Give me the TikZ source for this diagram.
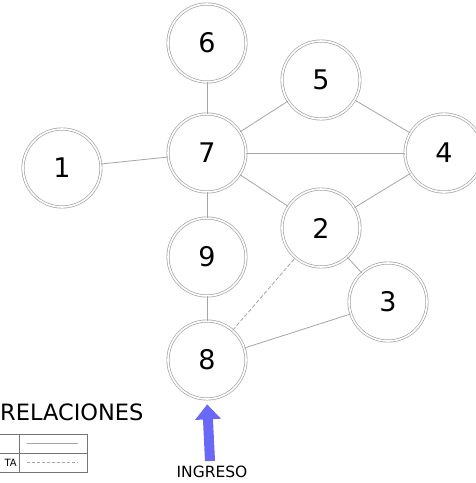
\documentclass[tikz,border=0pt]{standalone}
\usepackage{fontspec}
\setmainfont{DejaVu Sans}
\usepackage{tikz}
\usetikzlibrary{arrows.meta}
\usepackage{xcolor}
\definecolor{linegray}{RGB}{165,165,165}
\definecolor{arrowblue}{RGB}{105,105,245}

\begin{document}
\begin{tikzpicture}[x=1pt,y=-1pt,
    room/.style={circle, draw=linegray, line width=0.7pt, double=white,
      double distance=1.6pt, minimum size=78pt, inner sep=0pt,
      font=\fontsize{27}{27}\selectfont},
    link/.style={draw=linegray, line width=0.8pt}]
        \useasboundingbox (0,0) rectangle (475,483);

        \node[room] (n6) at (207,43) {6};
        \node[room] (n7) at (207,153) {7};
        \node[room] (n1) at (62,168) {1};
        \node[room] (n5) at (321,80) {5};
        \node[room] (n4) at (444,153) {4};
        \node[room] (n2) at (321,228) {2};
        \node[room] (n9) at (207,257) {9};
        \node[room] (n3) at (388,302) {3};
        \node[room] (n8) at (207,360) {8};

        \draw[link] (n6) -- (n7);
        \draw[link] (n1) -- (n7);
        \draw[link] (n7) -- (n5);
        \draw[link] (n7) -- (n4);
        \draw[link] (n7) -- (n2);
        \draw[link] (n7) -- (n9);
        \draw[link] (n5) -- (n4);
        \draw[link] (n2) -- (n4);
        \draw[link] (n2) -- (n3);
        \draw[link] (n9) -- (n8);
        \draw[link] (n8) -- (n3);
        \draw[link, dash pattern=on 4pt off 2pt] (n8) -- (n2);

        \coordinate (ingreso) at (210,461);
        \draw[arrowblue, line width=10pt, shorten >=5pt,
          -{Triangle[width=25pt,length=15pt]}] (ingreso) -- (n8.south);
        \node[font=\fontsize{15.5}{15.5}\selectfont, inner sep=0pt] (ingresolabel) at (212,472) {INGRESO};

        \node[anchor=base west, inner sep=0pt, font=\fontsize{22.5}{22.5}\selectfont] (title) at (0,420) {RELACIONES};
        \draw[linegray!70!black, line width=0.6pt] (-5,434) rectangle (87,472);
        \draw[linegray!70!black, line width=0.6pt] (-5,453) -- (87,453);
        \draw[linegray!70!black, line width=0.6pt] (19,434) -- (19,472);
        \node[anchor=east, inner sep=1pt, font=\fontsize{10}{10}\selectfont] (ta) at (18,463) {TA};
        \draw[linegray, line width=0.6pt] (27,443) -- (78,443);
        \draw[linegray, line width=0.6pt, dash pattern=on 3pt off 2pt] (27,462) -- (78,462);
\end{tikzpicture}
\end{document}
